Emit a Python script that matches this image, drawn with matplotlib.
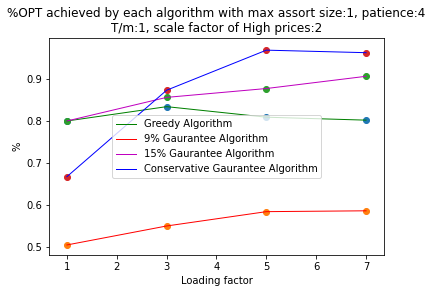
import matplotlib
matplotlib.use("Agg")
import matplotlib.pyplot as plt

loading_factor = [1, 3, 5, 7]

greedy = [0.800, 0.834, 0.809, 0.802]
guarantee_9 = [0.506, 0.551, 0.585, 0.587]
guarantee_15 = [0.800, 0.856, 0.877, 0.906]
conservative = [0.668, 0.873, 0.968, 0.962]

labels = ["Greedy Algorithm", "9% Gaurantee Algorithm",
          "15% Gaurantee Algorithm", "Conservative Gaurantee Algorithm"]
line_colors = ["green", "r", "m", "b"]
point_colors = ["C0", "C1", "C2", "C3"]

fig = plt.figure(figsize=(6.0, 293 / 72), dpi=72)
ax = fig.add_axes([0.1134, 0.128, 0.7755, 0.744])

series = [greedy, guarantee_9, guarantee_15, conservative]
for vals, lab, lc, pc in zip(series, labels, line_colors, point_colors):
    ax.scatter(loading_factor, vals, color=pc)
    ax.plot(loading_factor, vals, color=lc, linewidth=1, label=lab)

ax.set_xlim(0.64, 7.36)
ax.set_ylim(0.481, 0.998)
ax.set_xlabel("Loading factor")
ax.set_ylabel("%")
ax.set_title("%OPT achieved by each algorithm with max assort size:1, patience:4\n"
             "T/m:1, scale factor of High prices:2", fontsize=12)
ax.legend(loc="center")

fig.savefig("out.png", dpi=72)
